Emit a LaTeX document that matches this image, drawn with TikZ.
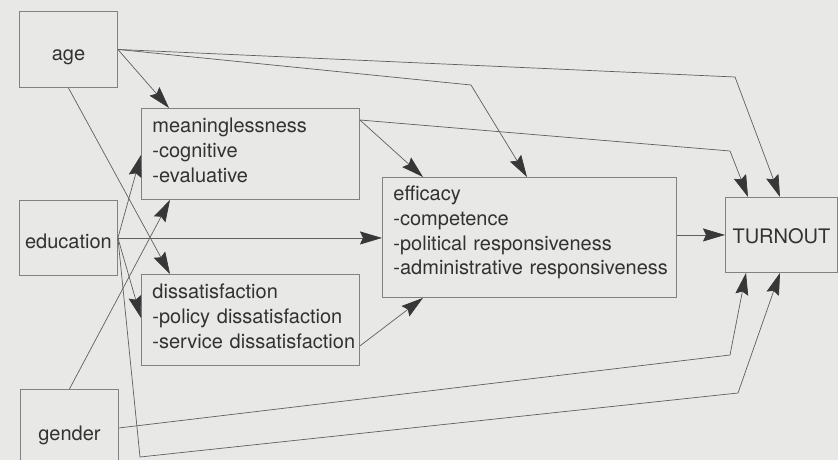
\documentclass[tikz,border=0pt]{standalone}
\usepackage{fontspec}
\setmainfont{TeX Gyre Heros}
\usetikzlibrary{arrows.meta}
\definecolor{paper}{RGB}{232,232,230}
\definecolor{inkgray}{RGB}{50,50,50}
\definecolor{framegray}{RGB}{130,130,130}
\definecolor{wiregray}{RGB}{95,95,95}
\definecolor{headgray}{RGB}{55,55,55}

\begin{document}
\begin{tikzpicture}[x=1pt, y=-1pt,
  box/.style={draw=framegray, line width=0.9pt, anchor=north west,
    inner ysep=0pt, text=inkgray, font=\fontsize{20}{24.8}\selectfont},
  varbox/.style={box, inner xsep=0pt},
  listbox/.style={box, inner xsep=11pt, align=left},
  link/.style={draw=wiregray, line width=0.7pt,
    -{Stealth[length=22pt, width=13pt, inset=3pt, color=headgray]}}
]
\fill[paper] (0,0) rectangle (838,460);
\useasboundingbox (0,0) rectangle (838,460);

% background variables
\node[varbox, minimum width=98pt, text height=49pt, text depth=27pt] (age) at (19,11) {age};
\node[varbox, minimum width=98pt, text height=48pt, text depth=27pt] (edu) at (19,200) {education};
\node[varbox, minimum width=98pt, text height=51pt, text depth=26pt] (gender) at (20,389) {gender};

% mediating attitudes (each line kept whole, never broken)
\node[listbox, text width=196pt, text height=24pt, text depth=67pt] (meaning) at (141,108)
  {\mbox{meaninglessness}\\\mbox{-cognitive}\\\mbox{-evaluative}};
\node[listbox, text width=196pt, text height=24pt, text depth=67pt] (dis) at (141,274)
  {\mbox{dissatisfaction}\\\mbox{-policy dissatisfaction}\\\mbox{-service dissatisfaction}};
\node[listbox, text width=272pt, text height=23pt, text depth=97pt] (eff) at (382,177)
  {\mbox{efficacy}\\\mbox{-competence}\\\mbox{-political responsiveness}\\\mbox{-administrative responsiveness}};

% outcome
\node[varbox, minimum width=112pt, text height=46pt, text depth=29pt] (turn) at (725,197) {TURNOUT};

% bend points and exit points of the routed links
\coordinate (b1) at (471,85);
\coordinate (b2) at (735,77);
\coordinate (b3) at (730,151);
\coordinate (b4) at (140,457);
\coordinate (b5) at (738,393);
\coordinate (b6) at (730,355);
\coordinate (mout) at ([yshift=-12pt]meaning.north east);
\coordinate (dout) at ([yshift=20pt]dis.south east);

% effects of age
\draw[link] (age.east) -- ([xshift=28pt]meaning.north west);
\draw[link] (age.east) -- (b1) -- ([xshift=145pt]eff.north west);
\draw[link] (age.east) -- (b2) -- ([xshift=55pt]turn.north west);
\draw[link] (age.south) -- ([xshift=29pt]dis.north west);

% effects of education
\draw[link] (edu.east) -- ([yshift=-47pt]meaning.north west);
\draw[link] (edu.east) -- (edu.east -| eff.west);
\draw[link] (edu.east) -- ([yshift=2pt]dis.west);
\draw[link] (edu.east) -- (b4) -- (b5) -- ([xshift=55pt]turn.south west);

% effects of gender
\draw[link] (gender.north) -- ([xshift=29pt]meaning.south west);
\draw[link] (gender.east) -- (b6) -- ([xshift=21pt]turn.south west);

% effects of the attitudes
\draw[link] (mout) -- ([xshift=41pt]eff.north west);
\draw[link] (mout) -- (b3) -- ([xshift=23pt]turn.north west);
\draw[link] (dout) -- ([xshift=41pt]eff.south west);
\draw[link] (turn.west -| eff.east) -- (turn.west);
\end{tikzpicture}
\end{document}
